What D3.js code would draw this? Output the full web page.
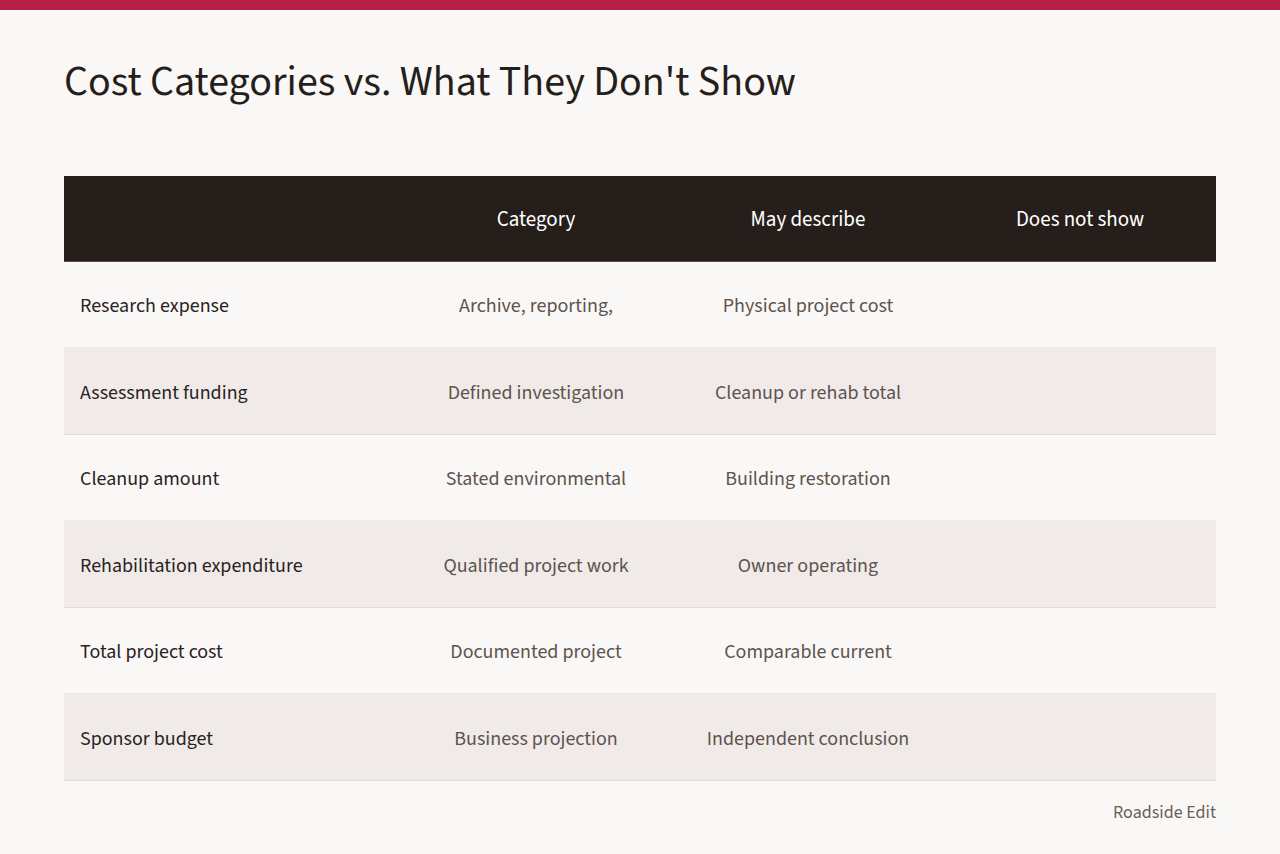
<!DOCTYPE html>
<html><head><meta charset="utf-8">
<script src="https://cdn.jsdelivr.net/npm/d3@7"></script>
<style>
body{margin:0;background:#f9f8f6;}
svg{display:block;font-family:"Source Sans 3","Source Sans Pro",Lato,"Noto Sans",sans-serif;}
</style></head><body>
<div id="chart"></div>
<script>
var W = 1280, H = 854;

// table content
var columns = ['', 'Category', 'May describe', 'Does not show'];
var rowLabels = ['Research expense','Assessment funding','Cleanup amount','Rehabilitation expenditure','Total project cost','Sponsor budget'];
var categoryText = ['Archive, reporting,','Defined investigation','Stated environmental','Qualified project work','Documented project','Business projection'];
var describeText = ['Physical project cost','Cleanup or rehab total','Building restoration','Owner operating','Comparable current','Independent conclusion'];
var notShowText = ['','','','','',''];

var svg = d3.select('#chart').append('svg').attr('width',W).attr('height',H);

svg.append('rect').attr('width',W).attr('height',H).attr('fill','#f9f8f6');
svg.append('rect').attr('width',W).attr('height',10).attr('fill','#b81f45');

svg.append('text').attr('x',64).attr('y',95)
	.attr('font-size',42).attr('fill','#261e1a')
	.text("Cost Categories vs. What They Don't Show");

var left = 64, right = 1216, headTop = 176, headH = 86;

//columns: first wide label column, then three equal ones
var x = d3.scaleBand().domain([1,2,3]).range([400,right]);
var y = d3.scaleBand().domain(d3.range(rowLabels.length)).range([headTop+headH, 781]);

svg.append('rect').attr('x',left).attr('y',headTop).attr('width',right-left).attr('height',headH).attr('fill','#261e1a');
svg.append('line').attr('x1',left).attr('x2',right).attr('y1',headTop+headH).attr('y2',headTop+headH)
	.attr('stroke','#8a807a').attr('stroke-width',1);

svg.selectAll('.head').data([1,2,3]).enter().append('text')
	.attr('x',function(d){return x(d)+x.bandwidth()/2;})
	.attr('y',headTop+headH/2+7)
	.attr('text-anchor','middle').attr('font-size',21).attr('fill','#ffffff')
	.text(function(d){return columns[d];});

var rows = svg.selectAll('.row').data(rowLabels).enter().append('g')
	.attr('transform',function(d,i){return 'translate(0,'+y(i)+')';});

rows.append('rect').attr('x',left).attr('width',right-left).attr('height',y.bandwidth())
	.attr('fill',function(d,i){return i%2 ? '#f0ebe9' : '#f9f8f6';});
rows.append('line').attr('x1',left).attr('x2',right)
	.attr('y1',y.bandwidth()-0.5).attr('y2',y.bandwidth()-0.5)
	.attr('stroke','#e2dcd9');

var mid = y.bandwidth()/2+7;
rows.append('text').attr('x',80).attr('y',mid).attr('font-size',20).attr('fill','#2a221e')
	.text(function(d){return d;});
[categoryText, describeText, notShowText].forEach(function(arr,k){
	rows.append('text').attr('x',x(k+1)+x.bandwidth()/2).attr('y',mid)
		.attr('text-anchor','middle').attr('font-size',20).attr('fill','#5e534d')
		.text(function(d,i){return arr[i];});
});

svg.append('text').attr('x',right).attr('y',818).attr('text-anchor','end')
	.attr('font-size',18).attr('fill','#6b5f59').text('Roadside Edit');
</script>
</body></html>
